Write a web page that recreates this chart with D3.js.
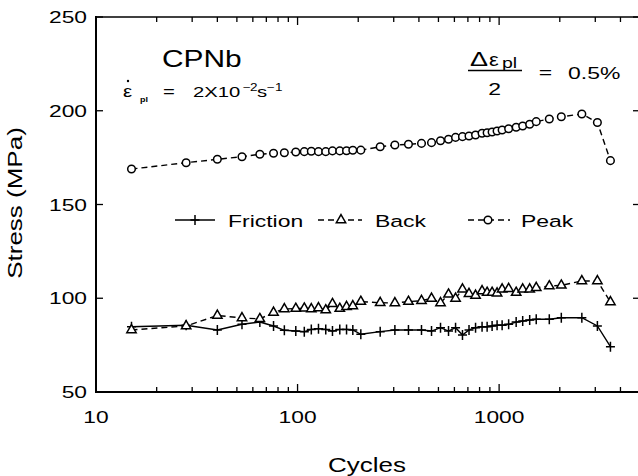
<!DOCTYPE html>
<html>
<head>
<meta charset="utf-8">
<script src="https://cdn.jsdelivr.net/npm/d3@7"></script>
<style>
    body { margin: 0; background: #fff; }
    text { font-family: "Liberation Sans", Arial, sans-serif; fill: #000; }
</style>
</head>
<body>
<svg id="chart" width="638" height="476"></svg>
<script>
(function () {

    'use strict';

    // cycle numbers shared by the three series
    var cycles = [15, 28, 40, 53, 65, 76, 86, 98, 108, 117, 127, 138, 149, 162, 175, 188, 206,
        257, 304, 355, 412, 462, 512, 561, 608, 658, 709, 764, 823, 872, 923, 977, 1035,
        1115, 1215, 1309, 1418, 1528, 1774, 2035, 2573, 3073, 3567];

    var peak = [168.9, 172.3, 174.1, 175.5, 176.8, 177.3, 177.6, 178.0, 178.2, 178.4, 178.2, 178.2,
        178.6, 178.6, 178.7, 178.9, 179.0, 180.8, 181.7, 182.1, 182.6, 183.0, 184.0, 184.8, 185.8,
        186.2, 186.5, 187.1, 188.0, 188.3, 188.7, 189.2, 189.7, 190.4, 191.2, 191.9, 192.8, 194.2,
        195.6, 196.8, 198.3, 193.7, 173.4];

    var back = [83.1, 85.2, 90.8, 89.5, 89.0, 92.4, 94.3, 94.5, 94.6, 94.3, 94.8, 93.7, 97.0, 94.5,
        95.5, 95.9, 98.2, 97.6, 97.5, 98.2, 98.7, 99.9, 97.5, 102.1, 99.9, 104.8, 102.4, 101.5, 103.9,
        103.0, 103.0, 102.7, 104.8, 105.1, 103.0, 104.8, 104.8, 105.6, 106.5, 106.9, 109.2, 109.2, 98.0];

    var friction = [84.8, 85.6, 83.1, 86.1, 87.3, 85.2, 82.9, 82.5, 82.2, 83.4, 83.8, 83.4, 82.5,
        83.4, 83.4, 83.1, 80.8, 82.2, 83.1, 83.1, 83.1, 82.5, 84.3, 82.5, 84.3, 80.4, 83.1, 84.3,
        84.8, 84.8, 85.2, 85.6, 85.6, 86.1, 87.3, 87.9, 88.4, 88.8, 88.8, 89.6, 89.6, 85.2, 74.2];

    var xTickLabels = [10, 100, 1000];
    var yTickLabels = [50, 100, 150, 200, 250];

    var svg = d3.select('#chart');

    var x = d3.scaleLog().domain([10, 5000]).range([96, 640]);
    var y = d3.scaleLinear().domain([50, 250]).range([392, 17]);

    var sx = 1.35; // the original lettering is wide

    var label = function (g, px, py, str, size, anchor, scaleX) {
        return g.append('text')
            .attr('transform', 'translate(' + px + ',' + py + ') scale(' + (scaleX || sx) + ',1)')
            .attr('text-anchor', anchor || 'start')
            .style('font-size', size + 'px')
            .text(str);
    };

    // frame
    var frame = svg.append('g').attr('stroke', '#000').attr('fill', 'none');
    frame.append('line').attr('x1', 96).attr('x2', 96).attr('y1', 16).attr('y2', 393).attr('stroke-width', 2);
    frame.append('line').attr('x1', 95).attr('x2', 640).attr('y1', 392).attr('y2', 392).attr('stroke-width', 2);
    frame.append('line').attr('x1', 95).attr('x2', 640).attr('y1', 17).attr('y2', 17).attr('stroke-width', 1.5);
    frame.append('line').attr('x1', 640).attr('x2', 640).attr('y1', 17).attr('y2', 392).attr('stroke-width', 2);

    // x ticks, log minor ticks
    var xMinor = [];
    [10, 100, 1000].forEach(function (dec) {
        for (var k = 2; k <= 9; k++) {
            if (dec * k < 5000) xMinor.push(dec * k);
        }
    });

    var ticks = svg.append('g').attr('stroke', '#000').attr('stroke-width', 1.3);

    xMinor.forEach(function (v) {
        ticks.append('line').attr('x1', x(v)).attr('x2', x(v)).attr('y1', 392).attr('y2', 387);
        ticks.append('line').attr('x1', x(v)).attr('x2', x(v)).attr('y1', 17).attr('y2', 22);
    });
    xTickLabels.forEach(function (v) {
        ticks.append('line').attr('x1', x(v)).attr('x2', x(v)).attr('y1', 392).attr('y2', 384);
        ticks.append('line').attr('x1', x(v)).attr('x2', x(v)).attr('y1', 17).attr('y2', 25);
        label(svg, x(v), 423, String(v), 16.5, 'middle', 1.38);
    });

    yTickLabels.forEach(function (v) {
        ticks.append('line').attr('x1', 96).attr('x2', 103).attr('y1', y(v)).attr('y2', y(v));
        ticks.append('line').attr('x1', 633).attr('x2', 640).attr('y1', y(v)).attr('y2', y(v));
        label(svg, 87, y(v) + 6, String(v), 16.5, 'end', 1.38);
    });

    // axis titles
    label(svg, 367, 472, 'Cycles', 20, 'middle', 1.3);
    svg.append('text')
        .attr('transform', 'translate(22,203) rotate(-90) scale(1.3,1)')
        .attr('text-anchor', 'middle')
        .style('font-size', '20px')
        .text('Stress (MPa)');

    // series
    var seriesList = [
        {name: 'Friction', values: friction, dash: null, mark: 'plus'},
        {name: 'Back', values: back, dash: '6,4', mark: 'triangle'},
        {name: 'Peak', values: peak, dash: '6,4', mark: 'circle'}
    ];

    var plusPath = 'M-4.5,0H4.5M0,-5V5';
    var triPath = d3.symbol().type(d3.symbolTriangle).size(38)();

    var drawMark = function (g, type, px, py) {
        if (type === 'plus') {
            g.append('path').attr('d', plusPath)
                .attr('transform', 'translate(' + px + ',' + py + ')')
                .attr('fill', 'none').attr('stroke', '#000').attr('stroke-width', 1.5);
        } else if (type === 'triangle') {
            g.append('path').attr('d', triPath)
                .attr('transform', 'translate(' + px + ',' + py + ')')
                .attr('fill', '#fff').attr('stroke', '#000').attr('stroke-width', 1.5);
        } else {
            g.append('circle').attr('cx', px).attr('cy', py).attr('r', 3.8)
                .attr('fill', '#fff').attr('stroke', '#000').attr('stroke-width', 1.5);
        }
    };

    var line = d3.line()
        .x(function (d) { return x(d[0]); })
        .y(function (d) { return y(d[1]); });

    seriesList.forEach(function (s) {
        var pts = cycles.map(function (c, i) { return [c, s.values[i]]; });
        var g = svg.append('g');
        g.append('path')
            .attr('d', line(pts))
            .attr('fill', 'none')
            .attr('stroke', '#000')
            .attr('stroke-width', 1.4)
            .attr('stroke-dasharray', s.dash);
        pts.forEach(function (p) {
            drawMark(g, s.mark, x(p[0]), y(p[1]));
        });
    });

    // legend
    var legend = svg.append('g');
    var legendItems = [
        {x1: 175, x2: 215, mx: 195, tx: 228},
        {x1: 318, x2: 362, mx: 341, tx: 375},
        {x1: 468, x2: 510, mx: 488, tx: 521}
    ];
    legendItems.forEach(function (it, i) {
        var s = seriesList[i];
        legend.append('line')
            .attr('x1', it.x1).attr('x2', it.x2).attr('y1', 220).attr('y2', 220)
            .attr('stroke', '#000').attr('stroke-width', 1.4)
            .attr('stroke-dasharray', s.dash);
        drawMark(legend, s.mark, it.mx, 220);
        label(legend, it.tx, 227, s.name, 17, 'start');
    });

    // annotations
    var ann = svg.append('g');
    label(ann, 162, 67, 'CPNb', 23, 'start', 1.3);

    label(ann, 123, 97, '\u03b5', 17, 'start', 1.2);
    ann.append('circle').attr('cx', 128).attr('cy', 81).attr('r', 1.2).attr('fill', '#000');
    label(ann, 140, 102, 'pl', 7.5, 'start', 1.2).style('font-weight', 'bold');
    label(ann, 163, 97, '=', 15, 'start');
    label(ann, 193, 97, '2X10', 15, 'start');
    label(ann, 243, 91, '\u2212', 10, 'start');
    label(ann, 250, 91, '2', 10, 'start');
    label(ann, 257, 97, 's', 15, 'start');
    label(ann, 267, 91, '\u2212', 10, 'start');
    label(ann, 275, 91, '1', 10, 'start');

    label(ann, 470, 66, '\u0394', 20, 'start', 1.35);
    label(ann, 489, 66, '\u03b5', 19, 'start', 1.15);
    label(ann, 502, 68, 'pl', 15, 'start', 1.3);
    ann.append('line').attr('x1', 468).attr('x2', 522).attr('y1', 70.5).attr('y2', 70.5)
        .attr('stroke', '#000').attr('stroke-width', 1.5);
    label(ann, 494.5, 95, '2', 17, 'middle');
    label(ann, 545.5, 78, '=', 17, 'middle');
    label(ann, 568, 79, '0.5%', 17, 'start');

}());
</script>
</body>
</html>
